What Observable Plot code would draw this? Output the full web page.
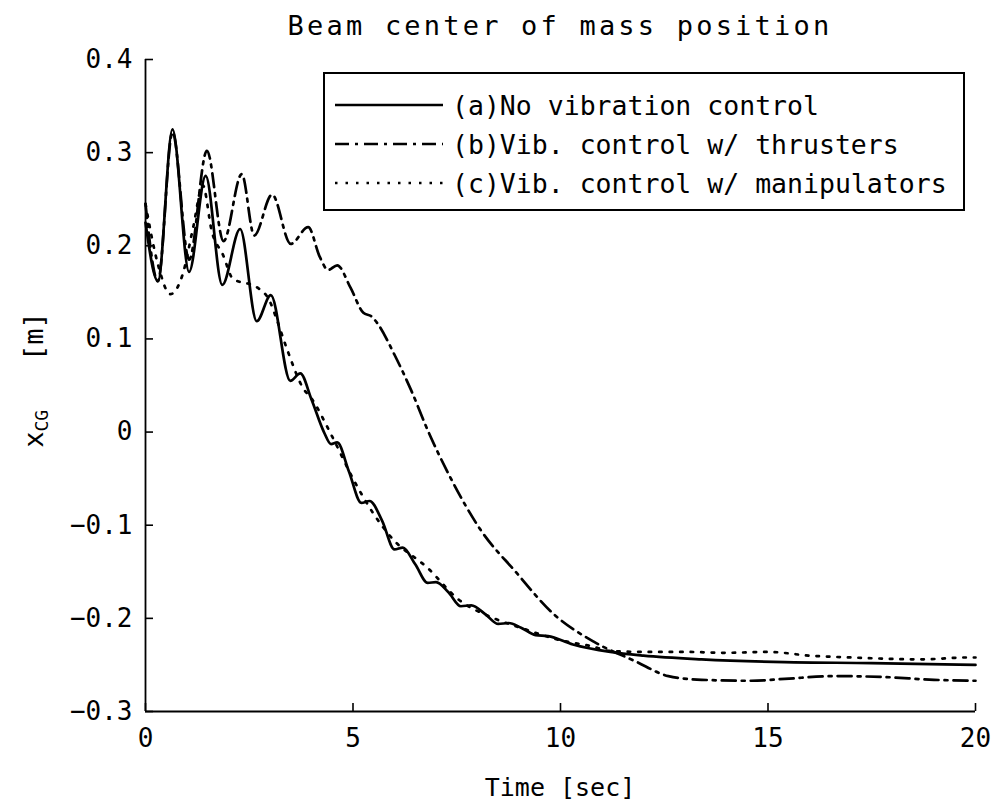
<!DOCTYPE html>
<html>
<head>
<meta charset="utf-8">
<script src="https://cdn.jsdelivr.net/npm/d3@7"></script>
<script src="https://cdn.jsdelivr.net/npm/@observablehq/plot@0.6"></script>
<style>
  body { margin: 0; background: #fff; }
  #wrap { position: relative; width: 995px; height: 809px; font-family: "DejaVu Sans Mono", monospace; color: #000; background: #fff; }
  #title { position: absolute; left: 145px; width: 830px; top: 6px; height: 40px; text-align: center; font-size: 27px; letter-spacing: 3.2px; line-height: 40px; }
  #chart { position: absolute; left: 0; top: 48px; }
  #legend { position: absolute; left: 323px; top: 72px; width: 638px; height: 135px; border: 2px solid #000; background: #fff; }
</style>
</head>
<body>
<div id="wrap">
  <div id="title">Beam center of mass position</div>
  <div id="chart"></div>
  <div id="legend"></div>
</div>
<script>
// ---- data ----
const seriesNames = ["(a)No vibration control", "(b)Vib. control w/ thrusters", "(c)Vib. control w/ manipulators"];

// (a) No vibration control (solid)
const tA = [0, 0.3, 0.65, 1.05, 1.45, 1.85, 2.28, 2.68, 3.02, 3.49, 3.73, 4.0, 4.3, 4.47, 4.62, 4.9, 5.2, 5.4, 5.7, 6.0, 6.2, 6.5, 6.8, 7.0, 7.3, 7.6, 7.85, 8.2, 8.5, 8.75, 9.05, 9.4, 9.7, 10.3, 11.2, 12.0, 13.4, 15.4, 17.5, 20];
const yA = [0.225, 0.162, 0.325, 0.172, 0.275, 0.158, 0.218, 0.119, 0.147, 0.055, 0.063, 0.035, 0.0, -0.013, -0.011, -0.042, -0.076, -0.074, -0.095, -0.126, -0.124, -0.142, -0.162, -0.161, -0.172, -0.187, -0.186, -0.196, -0.206, -0.205, -0.21, -0.218, -0.219, -0.228, -0.236, -0.24, -0.244, -0.247, -0.248, -0.25];

// (b) Vib. control w/ thrusters (dash-dot)
const tB = [0, 0.3, 0.65, 1.05, 1.48, 1.88, 2.32, 2.62, 3.05, 3.5, 3.92, 4.2, 4.4, 4.62, 4.94, 5.25, 5.45, 5.6, 6.0, 6.4, 6.8, 7.36, 8.09, 8.9, 9.85, 10.8, 11.8, 12.6, 13.4, 14.6, 15.4, 16.6, 17.8, 19, 20];
const yB = [0.245, 0.162, 0.322, 0.185, 0.302, 0.205, 0.277, 0.211, 0.255, 0.202, 0.22, 0.188, 0.174, 0.179, 0.155, 0.128, 0.124, 0.116, 0.083, 0.045, 0.002, -0.05, -0.106, -0.149, -0.196, -0.225, -0.246, -0.262, -0.266, -0.267, -0.265, -0.262, -0.263, -0.266, -0.267];

// (c) Vib. control w/ manipulators (dotted)
const tC = [0, 0.3, 0.6, 0.9, 1.15, 1.38, 1.6, 1.87, 2.1, 2.7, 3.0, 3.13, 3.41, 3.8, 4.0, 4.5, 5.0, 5.5, 5.9, 6.8, 7.55, 8.4, 9.1, 9.95, 10.75, 11.2, 12.0, 13.0, 14.0, 15.0, 16.0, 17.0, 18.7, 19.8, 20];
const yC = [0.245, 0.18, 0.148, 0.17, 0.22, 0.265, 0.215, 0.19, 0.165, 0.155, 0.14, 0.125, 0.089, 0.047, 0.036, -0.005, -0.05, -0.088, -0.112, -0.146, -0.18, -0.2, -0.211, -0.223, -0.23, -0.235, -0.236, -0.236, -0.237, -0.236, -0.24, -0.242, -0.244, -0.242, -0.242];

const xTicks = [0, 5, 10, 15, 20];
const yTicks = [-0.3, -0.2, -0.1, 0, 0.1, 0.2, 0.3, 0.4];

const dashes = [null, "14,6,3,6", "2.5,8"];

const toRows = (ts, ys) => ts.map((t, i) => ({t, v: ys[i]}));
const rowsA = toRows(tA, yA), rowsB = toRows(tB, yB), rowsC = toRows(tC, yC);

const fmtY = d => d === 0 ? "0" : d3.format(".1f")(d).replace("-", "\u2212");
const xMin = xTicks[0], xMax = xTicks[xTicks.length - 1];
const yMin = yTicks[0], yMax = yTicks[yTicks.length - 1];

const W = 995, H = 761;
const plot = Plot.plot({
  width: W, height: H,
  marginTop: 11, marginBottom: 98, marginLeft: 145, marginRight: 20,
  style: {fontFamily: "DejaVu Sans Mono, monospace", fontSize: "26px", color: "#000", background: "#fff", overflow: "visible"},
  x: {domain: [xMin, xMax], label: null},
  y: {domain: [yMin, yMax], label: null},
  marks: [
    Plot.line(rowsA, {x: "t", y: "v", curve: "monotone-x", stroke: "#000", strokeWidth: 2.7}),
    Plot.line(rowsB, {x: "t", y: "v", curve: "monotone-x", stroke: "#000", strokeWidth: 2.7, strokeDasharray: dashes[1]}),
    Plot.line(rowsC, {x: "t", y: "v", curve: "monotone-x", stroke: "#000", strokeWidth: 2.7, strokeDasharray: dashes[2]}),
    // axis lines
    Plot.ruleX([xMin], {stroke: "#000", strokeWidth: 1.8}),
    Plot.ruleY([yMin], {stroke: "#000", strokeWidth: 1.8}),
    // inward ticks
    Plot.ruleX(xTicks, {x: d => d, y1: yMin, y2: yMin, insetBottom: 8, stroke: "#000", strokeWidth: 1.6}),
    Plot.ruleY(yTicks, {y: d => d, x1: xMin, x2: xMin, insetRight: -8, stroke: "#000", strokeWidth: 1.6}),
    // tick labels
    Plot.axisX({ticks: xTicks, tickSize: 0, tickPadding: 17, tickFormat: d => String(d), label: null}),
    Plot.axisY({ticks: yTicks, tickSize: 0, tickPadding: 13, tickFormat: fmtY, label: null})
  ]
});
document.getElementById("chart").appendChild(plot);

// axis titles
const svg = d3.select(plot);
const sx = plot.scale("x"), sy = plot.scale("y");
svg.append("text")
  .attr("x", sx.apply(10)).attr("y", H - 22)
  .attr("text-anchor", "middle").attr("dominant-baseline", "central")
  .attr("font-size", 25).attr("fill", "#000")
  .text("Time [sec]");

const yl = svg.append("text")
  .attr("transform", `translate(33,${(sy.apply(yMax) + sy.apply(yMin)) / 2 - 5}) rotate(-90)`)
  .attr("text-anchor", "middle").attr("dominant-baseline", "central")
  .attr("font-size", 27).attr("fill", "#000")
  .style("white-space", "pre");
yl.append("tspan").text("x");
yl.append("tspan").attr("font-size", 18).attr("dy", 8).text("CG");
yl.append("tspan").attr("dy", -8).text("   [m]");

// legend
const leg = d3.select("#legend").append("svg").attr("width", 638).attr("height", 135)
  .style("font-family", "DejaVu Sans Mono, monospace");
seriesNames.forEach((name, i) => {
  const cy = 31 + i * 39;
  leg.append("line").attr("x1", 10).attr("x2", 118).attr("y1", cy).attr("y2", cy)
    .attr("stroke", "#000").attr("stroke-width", 2.7)
    .attr("stroke-dasharray", dashes[i]);
  leg.append("text").attr("x", 127).attr("y", cy).attr("dominant-baseline", "central")
    .attr("font-size", 26.5).attr("fill", "#000").text(name);
});
</script>
</body>
</html>
